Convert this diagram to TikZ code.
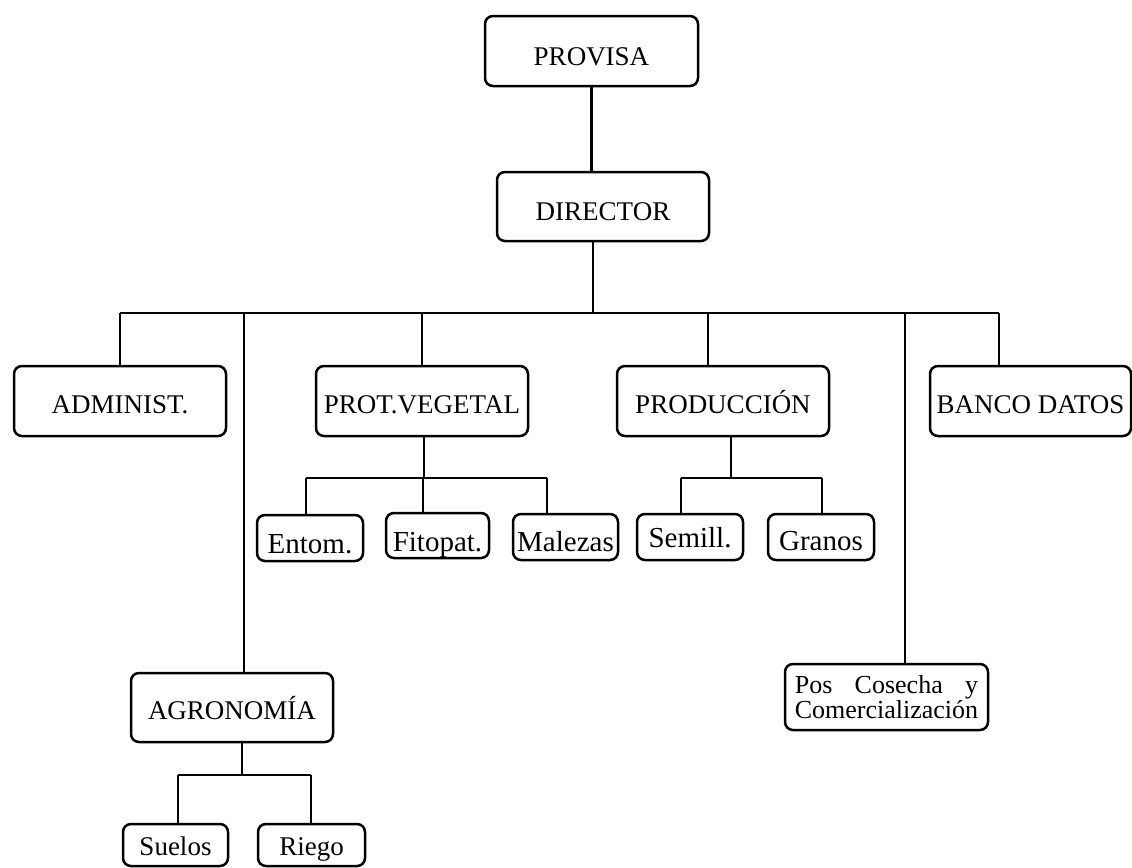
\documentclass[tikz,border=0pt]{standalone}
\usepackage{fontspec}
\setmainfont{Liberation Serif}
\tikzset{
  boxbase/.style={draw, line width=1.25pt, rounded corners=4pt, inner sep=0pt,
    font=\fontsize{13.5}{15}\selectfont},
  box/.style={boxbase, text depth=0pt, text height=13pt},
  small/.style={font=\fontsize{14.5}{16}\selectfont},
  bl/.style={text height=#1},
  wire/.style={line width=1.25pt},
}
\begin{document}
\begin{tikzpicture}[x=0.5pt,y=-0.5pt]
\useasboundingbox[fill=white] (0,0) rectangle (1132,868);
% top
\node[box, minimum width=106.5pt, minimum height=35pt, bl=14pt] (provisa) at (591.5,51) {PROVISA};
\node[box, minimum width=106pt, minimum height=34.5pt, bl=14pt] (director) at (603,206.5) {DIRECTOR};
% row 2
\node[box, minimum width=106pt, minimum height=35pt, bl=12pt] (admin) at (120,401) {ADMINIST.};
\node[box, minimum width=106pt, minimum height=35pt, bl=12pt] (prot) at (422,401) {PROT.VEGETAL};
\node[box, minimum width=106pt, minimum height=35pt, bl=12pt] (prod) at (723,401) {PRODUCCIÓN};
\node[box, minimum width=100.5pt, minimum height=35pt, bl=12pt] (banco) at (1030.5,401) {BANCO DATOS};
% row 3
\node[box, small, minimum width=53pt, minimum height=23pt, bl=15pt] (entom) at (310,538) {Entom.};
\node[box, small, minimum width=51.5pt, minimum height=22.5pt, bl=16pt] (fito) at (437.5,535.5) {Fitopat.};
\node[box, small, minimum width=52.5pt, minimum height=23pt, bl=14pt] (male) at (565.5,537) {Malezas};
\node[box, small, minimum width=53pt, minimum height=23pt, bl=10pt] (semi) at (690,537) {Semill.};
\node[box, small, minimum width=53pt, minimum height=23pt, bl=13pt] (gran) at (821,537) {Granos};
% lower
\node[box, minimum width=101pt, minimum height=34.5pt, bl=12pt] (agro) at (232,707.5) {AGRONOMÍA};
\node[box, minimum width=52.5pt, minimum height=21pt, bl=10pt] (suelos) at (175.5,845) {Suelos};
\node[box, minimum width=53.5pt, minimum height=21pt, bl=10pt] (riego) at (311.5,845) {Riego};
\node[boxbase, minimum width=101.5pt, minimum height=33pt, font=\fontsize{13}{11.5}\selectfont] (pos) at (886.5,697)
  {\setbox0\hbox{Comercialización}\vbox{\hbox to \wd0{Pos\hfill Cosecha\hfill y}\box0}};
% junction coordinates
\coordinate (bD) at (593,313);
\coordinate (bL) at (120,313);
\coordinate (bR) at (999,313);
\coordinate (bAg) at (244,313);
\coordinate (bPr) at (708,313);
\coordinate (bPo) at (905,313);
\coordinate (pvJ) at (424,478);
\coordinate (pvL) at (306,478);
\coordinate (pvR) at (547,478);
\coordinate (pvM) at (423,478);
\coordinate (pdJ) at (731,478);
\coordinate (pdL) at (681,478);
\coordinate (pdR) at (822,478);
\coordinate (agJ) at (242,775);
\coordinate (agL) at (178,775);
\coordinate (agR) at (311,775);
% connectors
\draw[wire] (provisa.south) -- (provisa.south |- director.north);
\draw[wire] (bD |- director.south) -- (bD);
\draw[wire] (bL) -- (bR);
\draw[wire] (bL) -- (admin.north);
\draw[wire] (prot.north |- bD) -- (prot.north);
\draw[wire] (bPr) -- (bPr |- prod.north);
\draw[wire] (bR) -- (bR |- banco.north);
\draw[wire] (bAg) -- (bAg |- agro.north);
\draw[wire] (bPo) -- (bPo |- pos.north);
\draw[wire] (pvJ |- prot.south) -- (pvJ);
\draw[wire] (pvL) -- (pvR);
\draw[wire] (pvL) -- (pvL |- entom.north);
\draw[wire] (pvM) -- (pvM |- fito.north);
\draw[wire] (pvR) -- (pvR |- male.north);
\draw[wire] (pdJ |- prod.south) -- (pdJ);
\draw[wire] (pdL) -- (pdR);
\draw[wire] (pdL) -- (pdL |- semi.north);
\draw[wire] (pdR) -- (pdR |- gran.north);
\draw[wire] (agJ |- agro.south) -- (agJ);
\draw[wire] (agL) -- (agR);
\draw[wire] (agL) -- (agL |- suelos.north);
\draw[wire] (agR) -- (agR |- riego.north);
\end{tikzpicture}
\end{document}
